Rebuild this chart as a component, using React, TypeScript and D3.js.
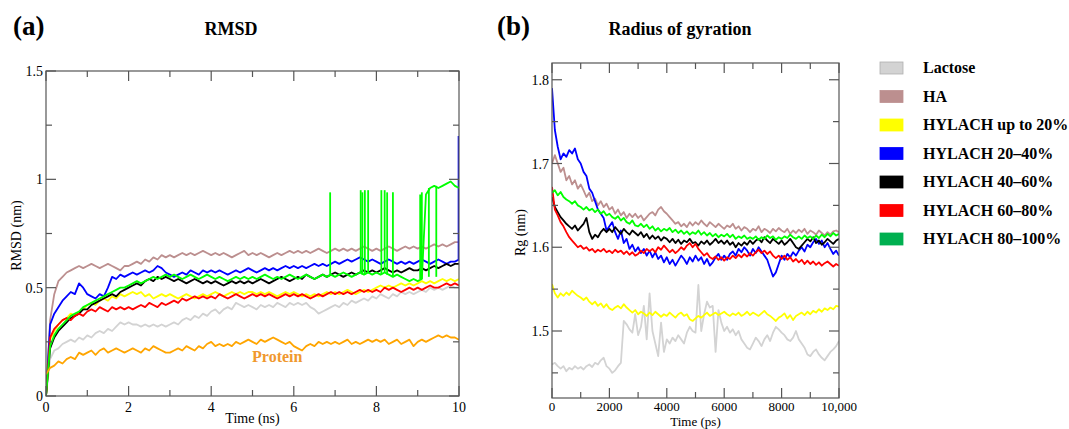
import React, { useEffect, useRef } from 'react'
import * as d3 from 'd3'

// ---- panel (a) RMSD, sampled every 0.1 ns ----
const rmsdTime = d3.range(0, 101).map((i) => i / 10)

const rmsdLactose = [
  0, 0.17, 0.21, 0.22, 0.24, 0.25, 0.26, 0.25, 0.27, 0.26,
  0.28, 0.27, 0.29, 0.3, 0.29, 0.31, 0.3, 0.32, 0.34, 0.33,
  0.34, 0.33, 0.33, 0.32, 0.33, 0.32, 0.33, 0.32, 0.33, 0.32,
  0.33, 0.34, 0.33, 0.35, 0.36, 0.35, 0.37, 0.36, 0.38, 0.37,
  0.39, 0.4, 0.38, 0.4, 0.41, 0.4, 0.43, 0.42, 0.41, 0.42,
  0.41, 0.4, 0.42, 0.41, 0.42, 0.41, 0.43, 0.42, 0.41, 0.43,
  0.42, 0.43, 0.42, 0.43, 0.41, 0.4, 0.38, 0.39, 0.4, 0.41,
  0.42, 0.41, 0.43, 0.42, 0.44, 0.43, 0.44, 0.45, 0.44, 0.46,
  0.45, 0.47, 0.46, 0.45, 0.47, 0.46, 0.48, 0.47, 0.48, 0.47,
  0.48, 0.49, 0.48, 0.5, 0.49, 0.5, 0.49, 0.5, 0.51, 0.5,
  0.5,
]
const rmsdHA = [
  0, 0.35, 0.47, 0.53, 0.55, 0.57, 0.58, 0.59, 0.6, 0.59,
  0.6, 0.61, 0.6, 0.59, 0.6, 0.61, 0.6, 0.59, 0.58, 0.6,
  0.6, 0.61, 0.62, 0.61, 0.63, 0.62, 0.64, 0.63, 0.65, 0.64,
  0.65, 0.64, 0.65, 0.66, 0.65, 0.66, 0.65, 0.66, 0.67, 0.66,
  0.65, 0.66, 0.65, 0.66, 0.65, 0.64, 0.65, 0.66, 0.67, 0.65,
  0.66, 0.65, 0.66, 0.65, 0.64, 0.65, 0.66, 0.65, 0.66, 0.67,
  0.66, 0.67, 0.66, 0.67, 0.66, 0.67, 0.68, 0.67, 0.66, 0.67,
  0.68, 0.67, 0.68, 0.67, 0.68, 0.67, 0.68, 0.69, 0.68, 0.67,
  0.68, 0.67, 0.68, 0.69, 0.68, 0.67, 0.68, 0.69, 0.68, 0.69,
  0.68, 0.69, 0.68, 0.69, 0.7, 0.69, 0.7, 0.69, 0.7, 0.71,
  0.71,
]
const rmsdUpTo20 = [
  0, 0.26, 0.3, 0.33, 0.35, 0.36, 0.38, 0.37, 0.39, 0.4,
  0.42, 0.43, 0.42, 0.44, 0.45, 0.44, 0.46, 0.45, 0.47, 0.46,
  0.47, 0.48, 0.47, 0.48, 0.46, 0.47, 0.45, 0.46, 0.47, 0.46,
  0.47, 0.46, 0.45, 0.46, 0.47, 0.46, 0.45, 0.46, 0.47, 0.46,
  0.47, 0.48, 0.47, 0.46, 0.47, 0.48, 0.47, 0.48, 0.47, 0.48,
  0.48, 0.47, 0.48, 0.47, 0.48, 0.47, 0.46, 0.47, 0.48, 0.47,
  0.48, 0.47, 0.46, 0.47, 0.46, 0.47, 0.46, 0.47, 0.48, 0.47,
  0.48, 0.47, 0.48, 0.49, 0.48, 0.47, 0.48, 0.49, 0.48, 0.49,
  0.5, 0.51, 0.5, 0.51, 0.5, 0.51, 0.52, 0.51, 0.52, 0.51,
  0.52, 0.53, 0.52, 0.53, 0.52, 0.53, 0.54, 0.53, 0.54, 0.53,
  0.54,
]
const rmsd20to40 = [
  0, 0.33, 0.38, 0.41, 0.44, 0.46, 0.48, 0.47, 0.52, 0.5,
  0.47, 0.46, 0.45, 0.47, 0.46, 0.5, 0.55, 0.54, 0.56, 0.55,
  0.56, 0.57, 0.56, 0.57, 0.58, 0.57, 0.58, 0.6, 0.59, 0.57,
  0.56, 0.55, 0.56, 0.57, 0.56, 0.58, 0.57, 0.56, 0.58, 0.57,
  0.58, 0.57, 0.58, 0.57, 0.56, 0.57, 0.58, 0.57, 0.58, 0.59,
  0.58, 0.57, 0.58, 0.59, 0.58, 0.59, 0.58, 0.59, 0.6, 0.59,
  0.6, 0.59, 0.6, 0.59, 0.6, 0.61, 0.6, 0.61, 0.6, 0.61,
  0.62, 0.61, 0.62, 0.63, 0.62, 0.63, 0.64, 0.63, 0.62, 0.63,
  0.62, 0.61, 0.62, 0.63, 0.62, 0.61, 0.62, 0.61, 0.62, 0.61,
  0.62, 0.63, 0.62, 0.61, 0.62, 0.63, 0.62, 0.61, 0.62, 0.62,
  0.63,
]
const rmsd40to60 = [
  0, 0.22, 0.27, 0.3, 0.32, 0.34, 0.36, 0.37, 0.38, 0.4,
  0.4, 0.42, 0.43, 0.44, 0.45, 0.46, 0.47, 0.46, 0.48, 0.49,
  0.5, 0.51, 0.52, 0.51, 0.53, 0.54, 0.53, 0.55, 0.54, 0.55,
  0.54, 0.53, 0.54, 0.53, 0.52, 0.53, 0.54, 0.53, 0.52, 0.53,
  0.52, 0.53, 0.52, 0.51, 0.52, 0.53, 0.52, 0.53, 0.52, 0.53,
  0.52, 0.53, 0.54, 0.53, 0.52, 0.53, 0.54, 0.55, 0.54, 0.53,
  0.54, 0.55, 0.54, 0.56, 0.55, 0.54, 0.55, 0.56, 0.55, 0.56,
  0.57, 0.56, 0.55, 0.56, 0.57, 0.56, 0.57, 0.58, 0.57, 0.58,
  0.57, 0.58, 0.59, 0.58, 0.57, 0.58, 0.57, 0.58, 0.59, 0.58,
  0.58, 0.59, 0.58, 0.59, 0.6, 0.59, 0.6, 0.61, 0.6, 0.61,
  0.61,
]
const rmsd60to80 = [
  0, 0.27, 0.31, 0.33, 0.35, 0.36, 0.35, 0.37, 0.38, 0.37,
  0.39, 0.4, 0.39, 0.41, 0.4, 0.39, 0.41, 0.4, 0.41, 0.4,
  0.41, 0.4, 0.41, 0.42, 0.41, 0.43, 0.42, 0.41, 0.43, 0.42,
  0.43, 0.44, 0.43, 0.45, 0.44, 0.45, 0.46, 0.45, 0.46, 0.45,
  0.46, 0.45, 0.47, 0.46, 0.45, 0.46, 0.47, 0.46, 0.45, 0.46,
  0.47, 0.46, 0.47, 0.46, 0.47, 0.46, 0.45, 0.46, 0.47, 0.46,
  0.47, 0.46, 0.47, 0.46, 0.45, 0.46, 0.47, 0.46, 0.47, 0.48,
  0.47, 0.48, 0.47, 0.48, 0.47, 0.48, 0.49, 0.48, 0.49, 0.48,
  0.49, 0.48, 0.5, 0.49, 0.5, 0.49, 0.48, 0.49, 0.5, 0.49,
  0.5, 0.49, 0.5, 0.51, 0.5, 0.5, 0.51, 0.52, 0.51, 0.52,
  0.51,
]
const rmsd80to100 = [
  0, 0.23, 0.28, 0.31, 0.33, 0.35, 0.37, 0.38, 0.39, 0.41,
  0.42, 0.43, 0.44, 0.45, 0.46, 0.47, 0.48, 0.49, 0.5, 0.5,
  0.51, 0.52, 0.53, 0.52, 0.53, 0.54, 0.55, 0.54, 0.55, 0.56,
  0.55, 0.56, 0.55, 0.54, 0.55, 0.56, 0.55, 0.54, 0.55, 0.56,
  0.55, 0.54, 0.55, 0.54, 0.53, 0.54, 0.55, 0.54, 0.55, 0.54,
  0.55, 0.54, 0.55, 0.56, 0.55, 0.54, 0.55, 0.54, 0.55, 0.56,
  0.55, 0.54, 0.55, 0.56, 0.55, 0.54, 0.55, 0.56, 0.55, 0.56,
  0.55, 0.56, 0.57, 0.56, 0.55, 0.56, 0.57, 0.56, 0.57, 0.56,
  0.57, 0.56, 0.57, 0.56, 0.55, 0.56, 0.55, 0.54, 0.53, 0.54,
  0.53, 0.54, 0.93, 0.96, 0.97, 0.96, 0.97, 0.98, 0.99, 0.97,
  0.96,
]
const rmsdProtein = [
  0.1, 0.13, 0.14, 0.16, 0.15, 0.17, 0.18, 0.17, 0.2, 0.19,
  0.2, 0.21, 0.19, 0.21, 0.22, 0.2, 0.21, 0.22, 0.21, 0.2,
  0.21, 0.22, 0.21, 0.2, 0.22, 0.21, 0.23, 0.22, 0.21, 0.2,
  0.2, 0.21, 0.22, 0.21, 0.23, 0.22, 0.21, 0.23, 0.22, 0.24,
  0.25, 0.23, 0.24, 0.23, 0.24, 0.23, 0.25, 0.24, 0.25, 0.26,
  0.25, 0.24, 0.26, 0.25, 0.26, 0.27, 0.26, 0.25, 0.24, 0.25,
  0.23, 0.22, 0.21, 0.23, 0.24, 0.23, 0.25, 0.24, 0.25, 0.24,
  0.25, 0.24, 0.25, 0.26, 0.24, 0.25, 0.24, 0.25, 0.26, 0.25,
  0.26, 0.25, 0.26, 0.24, 0.25, 0.26, 0.24, 0.25, 0.26, 0.23,
  0.25, 0.26, 0.25, 0.26, 0.27, 0.28, 0.27, 0.28, 0.27, 0.27,
  0.26,
]
// single-frame jumps [time ns, value]
const rmsd20to40Spikes = [[9.99, 1.2]]
const rmsd80to100Spikes = [
  [6.88, 0.94], [7.62, 0.95], [7.66, 0.94], [7.72, 0.95], [7.8, 0.95],
  [8.12, 0.95], [8.2, 0.95], [8.26, 0.94], [8.4, 0.94], [9.06, 0.93],
  [9.1, 0.94], [9.27, 0.55], [9.45, 0.55],
]

// ---- panel (b) radius of gyration, sampled every 100 ps ----
const rgTime = d3.range(0, 101).map((i) => i * 100)

const rgLactose = [
  1.46, 1.462, 1.458, 1.455, 1.458, 1.452, 1.456, 1.454, 1.458, 1.455,
  1.457, 1.454, 1.458, 1.46, 1.457, 1.462, 1.46, 1.465, 1.468, 1.458,
  1.455, 1.45, 1.453, 1.458, 1.462, 1.512, 1.508, 1.502, 1.498, 1.52,
  1.495, 1.505, 1.53, 1.49, 1.545, 1.5, 1.485, 1.47, 1.51, 1.475,
  1.49, 1.485, 1.492, 1.488, 1.495, 1.49, 1.485, 1.498, 1.505, 1.5,
  1.498, 1.555, 1.5, 1.52, 1.535, 1.528, 1.53, 1.475, 1.525, 1.51,
  1.5, 1.505, 1.498, 1.502, 1.495, 1.5, 1.49, 1.485, 1.48, 1.478,
  1.485, 1.492, 1.488, 1.482, 1.49, 1.495, 1.488, 1.498, 1.505, 1.502,
  1.498, 1.495, 1.49, 1.488, 1.492, 1.5, 1.49, 1.485, 1.48, 1.472,
  1.47, 1.475, 1.478, 1.472, 1.468, 1.465, 1.47, 1.475, 1.478, 1.482,
  1.488,
]
const rgHA = [
  1.7, 1.71, 1.7, 1.69, 1.695, 1.68, 1.685, 1.675, 1.68, 1.67,
  1.675, 1.668, 1.66, 1.665, 1.655, 1.658, 1.65, 1.655, 1.648, 1.652,
  1.645, 1.648, 1.64, 1.645, 1.638, 1.642, 1.635, 1.64, 1.636, 1.64,
  1.635, 1.638, 1.632, 1.636, 1.64, 1.642, 1.638, 1.645, 1.648, 1.643,
  1.64, 1.636, 1.632, 1.628, 1.63, 1.625, 1.628, 1.624, 1.63, 1.626,
  1.63, 1.627, 1.632, 1.628, 1.625, 1.63, 1.627, 1.624, 1.628, 1.625,
  1.622, 1.626, 1.624, 1.628, 1.622, 1.625, 1.62, 1.624, 1.622, 1.618,
  1.622, 1.62, 1.625, 1.618, 1.622, 1.62, 1.617, 1.622, 1.619, 1.623,
  1.62, 1.618, 1.622, 1.616, 1.62, 1.617, 1.621, 1.618, 1.622, 1.616,
  1.62, 1.618, 1.615, 1.62, 1.617, 1.614, 1.618, 1.615, 1.619, 1.62,
  1.618,
]
const rgUpTo20 = [
  1.556, 1.545, 1.54, 1.545, 1.542, 1.546, 1.543, 1.548, 1.545, 1.542,
  1.54, 1.537, 1.54, 1.535, 1.532, 1.535, 1.53, 1.533, 1.528, 1.532,
  1.527, 1.525, 1.528, 1.53, 1.527, 1.532, 1.528, 1.525, 1.522, 1.525,
  1.52, 1.523, 1.521, 1.518, 1.522, 1.519, 1.523, 1.52, 1.517, 1.52,
  1.518, 1.522, 1.519, 1.516, 1.52, 1.522, 1.518, 1.52, 1.514, 1.512,
  1.515, 1.518, 1.516, 1.519, 1.522, 1.518, 1.52, 1.522, 1.519, 1.521,
  1.523, 1.52, 1.518, 1.521, 1.519, 1.522, 1.518, 1.52, 1.523, 1.519,
  1.522, 1.52, 1.518, 1.521, 1.524, 1.52, 1.518, 1.515, 1.512, 1.516,
  1.518, 1.521, 1.515, 1.519, 1.513, 1.518, 1.52, 1.522, 1.519, 1.523,
  1.52, 1.524, 1.522, 1.526, 1.523, 1.527, 1.525, 1.528, 1.526, 1.53,
  1.529,
]
const rg20to40 = [
  1.79, 1.74, 1.72, 1.705, 1.712, 1.708, 1.716, 1.712, 1.718, 1.705,
  1.7, 1.69, 1.685, 1.67, 1.665, 1.655, 1.645, 1.64, 1.635, 1.62,
  1.625, 1.63, 1.618, 1.61, 1.62, 1.605, 1.61, 1.598, 1.603, 1.595,
  1.6, 1.593, 1.598, 1.59, 1.596, 1.588, 1.594, 1.586, 1.59, 1.582,
  1.588, 1.58, 1.585, 1.578, 1.584, 1.59, 1.586, 1.58, 1.588, 1.583,
  1.59, 1.584, 1.588, 1.58, 1.586, 1.578, 1.582, 1.588, 1.592, 1.585,
  1.59, 1.585, 1.592, 1.595, 1.59, 1.598, 1.594, 1.6, 1.596, 1.59,
  1.598, 1.593, 1.6, 1.595, 1.59, 1.585, 1.575, 1.565, 1.57, 1.58,
  1.59, 1.585, 1.592, 1.588, 1.594, 1.59, 1.596, 1.6, 1.595, 1.603,
  1.6, 1.606, 1.61, 1.604, 1.608, 1.6, 1.605, 1.598, 1.592, 1.596,
  1.59,
]
const rg40to60 = [
  1.66, 1.648, 1.642, 1.636, 1.632, 1.628, 1.625, 1.622, 1.626, 1.62,
  1.624, 1.628, 1.635, 1.618, 1.61, 1.615, 1.612, 1.618, 1.622, 1.618,
  1.622, 1.618, 1.624, 1.62, 1.616, 1.622, 1.618, 1.615, 1.62, 1.617,
  1.614, 1.618, 1.612, 1.616, 1.61, 1.614, 1.61, 1.613, 1.608, 1.612,
  1.61, 1.606, 1.61, 1.605, 1.609, 1.604, 1.608, 1.606, 1.61, 1.605,
  1.606, 1.602, 1.607, 1.604, 1.608, 1.603, 1.606, 1.61, 1.605, 1.608,
  1.604, 1.608, 1.603, 1.606, 1.6, 1.605, 1.602, 1.606, 1.603, 1.608,
  1.604, 1.608, 1.61, 1.606, 1.612, 1.608, 1.605, 1.61, 1.607, 1.604,
  1.608, 1.603, 1.606, 1.61, 1.605, 1.6, 1.598, 1.602, 1.606, 1.61,
  1.607, 1.612, 1.605, 1.608, 1.603, 1.606, 1.61, 1.607, 1.604, 1.608,
  1.61,
]
const rg60to80 = [
  1.672, 1.645, 1.638, 1.63, 1.625, 1.618, 1.612, 1.608, 1.604, 1.6,
  1.602, 1.598, 1.6, 1.596, 1.598, 1.594, 1.597, 1.595, 1.598, 1.594,
  1.596, 1.593, 1.597, 1.594, 1.596, 1.592, 1.595, 1.591, 1.594, 1.59,
  1.592, 1.596, 1.593, 1.598, 1.595, 1.598, 1.594, 1.6, 1.597, 1.602,
  1.598, 1.594, 1.597, 1.593, 1.596, 1.6, 1.597, 1.602, 1.605, 1.6,
  1.604, 1.598, 1.594, 1.59, 1.593, 1.588, 1.586, 1.589, 1.585, 1.588,
  1.584, 1.588, 1.586, 1.59, 1.587, 1.591, 1.588, 1.592, 1.589, 1.593,
  1.59, 1.594, 1.597, 1.593, 1.596, 1.592, 1.595, 1.59, 1.587, 1.59,
  1.586, 1.59, 1.585, 1.588, 1.583, 1.586, 1.582, 1.585, 1.58, 1.584,
  1.58, 1.583, 1.579, 1.582, 1.578, 1.581, 1.583, 1.58, 1.577, 1.58,
  1.578,
]
const rg80to100 = [
  1.665, 1.668, 1.662, 1.666, 1.66, 1.657, 1.655, 1.652, 1.655, 1.65,
  1.648, 1.645, 1.648, 1.644, 1.646, 1.642, 1.645, 1.64, 1.643, 1.638,
  1.64, 1.636, 1.634, 1.637, 1.632, 1.635, 1.63, 1.628, 1.632, 1.626,
  1.625, 1.628, 1.624, 1.627, 1.622, 1.625, 1.62, 1.623, 1.619, 1.622,
  1.62, 1.623, 1.618, 1.621, 1.617, 1.62, 1.616, 1.619, 1.615, 1.618,
  1.616, 1.62, 1.615, 1.618, 1.614, 1.617, 1.613, 1.616, 1.612, 1.615,
  1.613, 1.616, 1.612, 1.615, 1.61, 1.613, 1.611, 1.614, 1.61, 1.612,
  1.61, 1.613, 1.609, 1.612, 1.61, 1.614, 1.611, 1.613, 1.609, 1.612,
  1.61, 1.613, 1.611, 1.615, 1.612, 1.61, 1.613, 1.61, 1.614, 1.611,
  1.613, 1.61, 1.614, 1.611, 1.615, 1.612, 1.616, 1.613, 1.617, 1.614,
  1.616,
]

// ---- legend / ticks ----
const legendNames = [
  'Lactose', 'HA', 'HYLACH up to 20%', 'HYLACH 20–40%',
  'HYLACH 40–60%', 'HYLACH 60–80%', 'HYLACH 80–100%',
]
const lineColors = ['#d3d3d3', '#bc8f8f', '#ffff00', '#0000ff', '#000000', '#ff0000', '#00ff00']
const swatchColors = ['#d3d3d3', '#bc8f8f', '#ffff00', '#0000ff', '#000000', '#ff0000', '#00b050']

const rmsdXMajor = [0, 2, 4, 6, 8, 10]
const rmsdXMinor = [1, 3, 5, 7, 9]
const rmsdYMajor = [0, 0.5, 1, 1.5]
const rmsdYMinor = [0.25, 0.75, 1.25]
const rgXMajor = [0, 2000, 4000, 6000, 8000, 10000]
const rgXMinor = [1000, 3000, 5000, 7000, 9000]
const rgYMajor = [1.5, 1.6, 1.7, 1.8]
const rgYMinor = [1.45, 1.55, 1.65, 1.75]

const SERIF = '"Liberation Serif", "Times New Roman", serif'

function drawPanel(svg, cfg) {
  const x = d3.scaleLinear().domain(cfg.xDomain).range([cfg.left, cfg.right])
  const y = d3.scaleLinear().domain(cfg.yDomain).range([cfg.bottom, cfg.top])
  const g = svg.append('g')

  g.append('clipPath')
    .attr('id', cfg.id)
    .append('rect')
    .attr('x', cfg.left)
    .attr('y', cfg.top)
    .attr('width', cfg.right - cfg.left)
    .attr('height', cfg.bottom - cfg.top)

  const lines = g.append('g').attr('clip-path', `url(#${cfg.id})`)
  const line = d3
    .line()
    .x((d, i) => x(cfg.time[i]))
    .y((d) => y(d))

  cfg.series.forEach((s) => {
    lines
      .append('path')
      .attr('d', line(s.values))
      .attr('fill', 'none')
      .attr('stroke', s.color)
      .attr('stroke-width', 1.8)
      .attr('stroke-linejoin', 'round')
    ;(s.spikes || []).forEach(([t, v]) => {
      const base = s.values[d3.bisectCenter(cfg.time, t)]
      lines
        .append('line')
        .attr('x1', x(t))
        .attr('x2', x(t))
        .attr('y1', y(base))
        .attr('y2', y(v))
        .attr('stroke', s.color)
        .attr('stroke-width', 1.8)
    })
  })

  // frame
  g.append('rect')
    .attr('x', cfg.left)
    .attr('y', cfg.top)
    .attr('width', cfg.right - cfg.left)
    .attr('height', cfg.bottom - cfg.top)
    .attr('fill', 'none')
    .attr('stroke', '#555')
    .attr('stroke-width', 1.2)

  const tick = (x1, y1, x2, y2) =>
    g.append('line')
      .attr('x1', x1).attr('y1', y1).attr('x2', x2).attr('y2', y2)
      .attr('stroke', '#555').attr('stroke-width', 1.2)

  const xt = (vals, len) =>
    vals.forEach((v) => {
      tick(x(v), cfg.bottom, x(v), cfg.bottom - len)
      tick(x(v), cfg.top, x(v), cfg.top + len)
    })
  const yt = (vals, len) =>
    vals.forEach((v) => {
      tick(cfg.left, y(v), cfg.left + len, y(v))
      tick(cfg.right, y(v), cfg.right - len, y(v))
    })
  xt(cfg.xMajor, 10)
  xt(cfg.xMinor, 6)
  yt(cfg.yMajor, 10)
  yt(cfg.yMinor, 6)

  g.append('g')
    .selectAll('text')
    .data(cfg.xMajor)
    .join('text')
    .attr('x', (d) => x(d))
    .attr('y', cfg.bottom + cfg.xLabelGap)
    .attr('text-anchor', 'middle')
    .attr('font-family', SERIF)
    .attr('font-size', cfg.xLabelSize)
    .text(cfg.xFmt)

  g.append('g')
    .selectAll('text')
    .data(cfg.yMajor)
    .join('text')
    .attr('x', cfg.left - 3)
    .attr('y', (d) => y(d) + 5)
    .attr('text-anchor', 'end')
    .attr('font-family', SERIF)
    .attr('font-size', 14)
    .text(cfg.yFmt)

  g.append('text')
    .attr('x', (cfg.left + cfg.right) / 2)
    .attr('y', cfg.xTitleY)
    .attr('text-anchor', 'middle')
    .attr('font-family', SERIF)
    .attr('font-size', cfg.xLabelSize)
    .text(cfg.xTitle)

  g.append('text')
    .attr('transform', `translate(${cfg.yTitleX},${(cfg.top + cfg.bottom) / 2 + 2}) rotate(-90)`)
    .attr('text-anchor', 'middle')
    .attr('font-family', SERIF)
    .attr('font-size', 14)
    .text(cfg.yTitle)

  g.append('text')
    .attr('x', cfg.tagX)
    .attr('y', 35)
    .attr('font-family', SERIF)
    .attr('font-weight', 'bold')
    .attr('font-size', 27)
    .text(cfg.tag)

  g.append('text')
    .attr('x', cfg.titleX)
    .attr('y', 35)
    .attr('text-anchor', 'middle')
    .attr('font-family', SERIF)
    .attr('font-weight', 'bold')
    .attr('font-size', 18)
    .text(cfg.title)

  return { x, y }
}

export default function App() {
  const ref = useRef(null)

  useEffect(() => {
    const svg = d3.select(ref.current)
    svg.selectAll('*').remove()

    const rmsdValues = [rmsdLactose, rmsdHA, rmsdUpTo20, rmsd20to40, rmsd40to60, rmsd60to80, rmsd80to100]
    const rmsdSpikes = [[], [], [], rmsd20to40Spikes, [], [], rmsd80to100Spikes]
    const rgValues = [rgLactose, rgHA, rgUpTo20, rg20to40, rg40to60, rg60to80, rg80to100]

    const a = drawPanel(svg, {
      id: 'clipA',
      left: 46, right: 459, top: 71, bottom: 396,
      xDomain: [0, 10], yDomain: [0, 1.5],
      xMajor: rmsdXMajor, xMinor: rmsdXMinor, yMajor: rmsdYMajor, yMinor: rmsdYMinor,
      xFmt: (d) => String(d), yFmt: (d) => String(d),
      xLabelGap: 16, xLabelSize: 14,
      time: rmsdTime,
      series: rmsdValues
        .map((v, i) => ({ values: v, color: lineColors[i], spikes: rmsdSpikes[i] }))
        .concat([{ values: rmsdProtein, color: '#ffa500', spikes: [] }]),
      xTitle: 'Time (ns)', xTitleY: 423,
      yTitle: 'RMSD (nm)', yTitleX: 21,
      tag: '(a)', tagX: 13,
      title: 'RMSD', titleX: 231,
    })

    svg.append('text')
      .attr('x', a.x(5.6))
      .attr('y', a.y(0.155))
      .attr('text-anchor', 'middle')
      .attr('font-family', SERIF)
      .attr('font-weight', 'bold')
      .attr('font-size', 16)
      .attr('fill', '#f0982e')
      .text('Protein')

    drawPanel(svg, {
      id: 'clipB',
      left: 552, right: 839, top: 63, bottom: 398,
      xDomain: [0, 10000], yDomain: [1.42, 1.82],
      xMajor: rgXMajor, xMinor: rgXMinor, yMajor: rgYMajor, yMinor: rgYMinor,
      xFmt: (d) => (d === 10000 ? '10,000' : String(d)), yFmt: (d) => d3.format('.1f')(d),
      xLabelGap: 13, xLabelSize: 13,
      time: rgTime,
      series: rgValues.map((v, i) => ({ values: v, color: lineColors[i], spikes: [] })),
      xTitle: 'Time (ps)', xTitleY: 426,
      yTitle: 'Rg (nm)', yTitleX: 525,
      tag: '(b)', tagX: 497,
      title: 'Radius of gyration', titleX: 680,
    })

    // legend
    const rowY = (i) => 68 + i * 28.5
    const leg = svg.append('g')
    leg.selectAll('rect')
      .data(legendNames)
      .join('rect')
      .attr('x', 880)
      .attr('y', (d, i) => rowY(i) - 6)
      .attr('width', 23)
      .attr('height', 12)
      .attr('fill', (d, i) => swatchColors[i])
      .attr('stroke', (d, i) => (i === 0 ? '#b0b0b0' : swatchColors[i]))
      .attr('stroke-width', 0.8)
    leg.selectAll('text')
      .data(legendNames)
      .join('text')
      .attr('x', 923)
      .attr('y', (d, i) => rowY(i) + 5)
      .attr('font-family', SERIF)
      .attr('font-weight', 'bold')
      .attr('font-size', 16)
      .text((d) => d)
  }, [])

  return (
    <svg
      ref={ref}
      width={1069}
      height={429}
      style={{ position: 'absolute', left: 0, top: 0, background: '#fff' }}
    />
  )
}
